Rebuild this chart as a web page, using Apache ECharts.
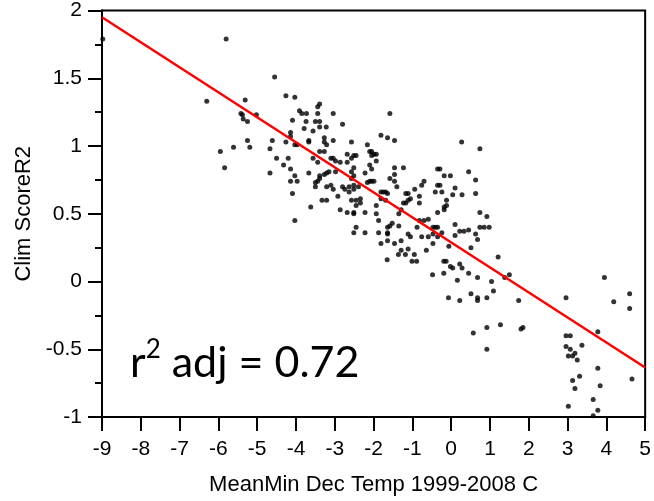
<!DOCTYPE html>
<html>
<head>
<meta charset="utf-8">
<script src="https://cdn.jsdelivr.net/npm/echarts@6/dist/echarts.min.js"></script>
<style>
html,body{margin:0;padding:0;background:#fff;}
#main{width:654px;height:501px;}
</style>
</head>
<body>
<div id="main"></div>
<script>
// Mean minimum December temperature (x) and climate score (y)
const tempX = [
-8.98,-5.80,
-4.55,-5.31,-6.30,-4.26,-4.03,-3.44,-3.39,-5.42,-5.38,-5.02,-3.91,-3.85,-3.73,-3.44,-3.04,-1.58,-5.36,-5.25,
-4.09,-3.74,-3.50,-3.39,-2.80,-3.39,-3.22,-3.79,-3.56,-4.14,-1.81,-1.64,-1.46,-5.25,-4.61,-3.67,-3.27,-3.04,
-4.26,-4.14,-5.95,-5.61,-5.19,-4.67,-4.03,-3.97,-3.67,-3.27,-3.21,-2.57,-2.16,-3.39,-3.27,-2.68,-2.10,-2.05,
-1.99,-1.93,-4.50,-4.20,-3.56,-3.10,-3.04,-2.98,-2.57,-2.51,-2.45,-2.05,-1.93,-4.32,-5.84,-4.14,-3.44,-2.86,
-2.68,-2.10,-2.51,-1.46,-1.23,-4.67,-3.67,-4.03,-3.39,-3.27,-3.21,-3.15,-2.98,-2.57,-2.51,-2.22,-2.05,-1.46,
-0.35,-0.29,-0.18,-4.14,-3.97,-3.44,-3.50,-3.39,-2.57,-2.10,-2.05,-1.99,-2.16,-1.58,-1.46,-0.70,-3.50,-3.21,
-3.10,-3.04,-2.80,-2.74,-2.63,-2.51,-2.39,-2.63,-2.51,-1.40,-1.81,-1.75,-1.69,-0.76,-0.35,-0.29,-0.94,-0.41,
-0.24,-4.09,-2.92,-1.64,-1.17,-1.11,-0.82,-2.34,-1.81,-1.05,-0.12,-3.33,-3.21,-2.57,-2.45,-1.69,-2.34,-1.23,
-1.17,-1.11,-0.82,-0.12,-2.45,-3.62,-0.18,-0.18,-1.29,-2.86,-2.68,-2.51,-2.51,-2.22,-1.93,-1.93,-0.35,-1.35,
-4.03,-1.87,-0.82,-0.70,-0.59,-1.52,-1.64,-1.58,-1.35,-2.45,-0.88,-0.47,-0.41,-0.35,-2.51,-2.22,-1.87,-1.64,
-1.64,-0.24,-1.11,-1.05,-0.76,-0.59,-0.47,-0.35,-1.81,-1.64,-1.46,-1.29,-0.47,-1.29,-1.11,-0.64,
0.27,0.74,0.45,0.63,0.63,0.28,0.04,0.10,-0.02,0.74,0.92,0.74,0.85,0.98,0.45,0.33,0.22,0.63,0.68,0.51,
0.45,0.68,1.04,1.09,0.51,0.68,0.68,0.92,0.10,0.10,-0.06,-1.65,-1.18,-1.36,-0.95,-1.01,-0.89,-0.48,-0.19,-0.13,
-0.02,0.04,0.22,-0.19,0.16,-0.07,0.22,0.28,
1.21,1.38,1.50,1.74,1.27,0.92,0.92,0.57,1.80,1.85,2.96,3.95,4.19,4.60,4.60,3.78,2.96,3.07,3.37,2.96,
3.07,3.02,3.13,3.19,3.25,3.78,3.31,3.13,3.19,3.84,4.66,3.66,3.02,3.78,3.66
];
const scoreY = [
1.79,1.79,
1.51,1.34,1.33,1.37,1.36,1.29,1.31,1.24,1.23,1.23,1.26,1.24,1.24,1.24,1.24,1.24,1.20,1.18,
1.19,1.18,1.18,1.18,1.16,1.14,1.14,1.13,1.11,1.10,1.08,1.06,1.04,1.04,1.04,1.04,1.06,1.04,
1.03,1.07,0.96,0.99,0.99,0.98,1.01,1.01,1.03,1.03,1.01,1.03,1.01,0.96,0.96,0.94,0.96,0.96,
0.94,0.94,0.91,0.91,0.91,0.91,0.91,0.89,0.91,0.93,0.93,0.93,0.89,0.86,0.84,0.83,0.88,0.88,
0.88,0.86,0.84,0.84,0.84,0.80,0.80,0.78,0.78,0.79,0.80,0.81,0.81,0.81,0.78,0.80,0.83,0.79,
0.83,0.83,0.78,0.74,0.74,0.74,0.73,0.76,0.76,0.74,0.74,0.74,0.73,0.76,0.74,0.74,0.70,0.70,
0.71,0.68,0.70,0.68,0.70,0.71,0.70,0.66,0.68,0.70,0.66,0.66,0.66,0.71,0.71,0.71,0.68,0.66,
0.66,0.65,0.63,0.65,0.65,0.65,0.63,0.61,0.61,0.61,0.60,0.60,0.60,0.60,0.60,0.60,0.58,0.58,
0.58,0.60,0.58,0.56,0.56,0.55,0.55,0.53,0.53,0.53,0.51,0.51,0.50,0.51,0.56,0.50,0.51,0.50,
0.45,0.45,0.45,0.45,0.46,0.43,0.40,0.41,0.41,0.40,0.40,0.40,0.40,0.40,0.36,0.36,0.36,0.36,
0.35,0.36,0.35,0.33,0.33,0.33,0.35,0.33,0.28,0.30,0.28,0.30,0.28,0.23,0.24,0.23,
1.03,0.98,0.81,0.75,0.65,0.64,0.64,0.69,0.78,0.51,0.48,0.40,0.40,0.40,0.38,0.37,0.37,0.35,0.31,0.25,
0.06,0.03,0.00,-0.07,-0.09,-0.12,-0.14,-0.12,0.42,0.34,0.26,0.16,0.20,0.20,0.20,0.15,0.15,0.05,0.15,0.15,
0.11,0.10,0.13,0.06,0.01,-0.12,-0.14,0.10,
0.18,0.03,0.05,-0.14,-0.32,-0.34,-0.50,-0.38,-0.35,-0.34,-0.12,0.03,-0.15,-0.09,-0.20,-0.37,-0.40,-0.40,-0.47,-0.48,
-0.50,-0.55,-0.55,-0.53,-0.58,-0.64,-0.70,-0.73,-0.79,-0.77,-0.72,-0.87,-0.92,-0.95,-0.99
];
// Fitted regression line end points
const fitX = [-9, 5];
const fitY = [1.95, -0.635];
const xTitle = 'MeanMin Dec Temp 1999-2008 C';
const yTitle = 'Clim ScoreR2';

const points = tempX.map((x, i) => [x, scoreY[i]]);
const fitLine = fitX.map((x, i) => [x, fitY[i]]);

const font = "'Liberation Sans', Arial, sans-serif";
const chart = echarts.init(document.getElementById('main'), null, {renderer: 'canvas'});
chart.setOption({
  animation: false,
  backgroundColor: '#fff',
  grid: {left: 102, right: 5, top: 6, bottom: 84, show: true, borderColor: '#000', borderWidth: 2, backgroundColor: 'transparent'},
  xAxis: {
    type: 'value', min: -9, max: 5, interval: 1,
    name: xTitle, nameLocation: 'middle', nameGap: 57,
    nameTextStyle: {fontFamily: font, fontSize: 22, color: '#000'},
    axisLine: {show: true, onZero: false, lineStyle: {color: '#000', width: 2}},
    axisTick: {show: true, length: 14, lineStyle: {color: '#000', width: 2}},
    axisLabel: {fontFamily: font, fontSize: 21, color: '#000', margin: 22},
    splitLine: {show: false}
  },
  yAxis: {
    type: 'value', min: -1, max: 2, interval: 0.5,
    name: yTitle, nameLocation: 'middle', nameGap: 66,
    nameTextStyle: {fontFamily: font, fontSize: 22, color: '#000'},
    axisLine: {show: true, onZero: false, lineStyle: {color: '#000', width: 2}},
    axisTick: {show: true, length: 14, lineStyle: {color: '#000', width: 2}},
    minorTick: {show: true, splitNumber: 2, length: 7, lineStyle: {color: '#000', width: 2}},
    axisLabel: {fontFamily: font, fontSize: 21, color: '#000', margin: 20},
    splitLine: {show: false}
  },
  series: [
    {type: 'scatter', data: points, symbol: 'circle', symbolSize: 5,
     itemStyle: {color: '#000'}, z: 3},
    {type: 'line', data: fitLine, showSymbol: false, symbol: 'none',
     lineStyle: {color: '#ff0000', width: 2.5}, z: 4, clip: true}
  ],
  graphic: [{
    type: 'text', left: 130, top: 337, z: 10,
    style: {
      text: '{a|r}{s|2}{a| adj = 0.72}',
      rich: {
        a: {fontFamily: "Lato, 'Open Sans', sans-serif", fontSize: 43, lineHeight: 52, fill: '#000', color: '#000'},
        s: {fontFamily: "Lato, 'Open Sans', sans-serif", fontSize: 26, lineHeight: 52, verticalAlign: 'top', fill: '#000', color: '#000'}
      }
    }
  }]
});
</script>
</body>
</html>
